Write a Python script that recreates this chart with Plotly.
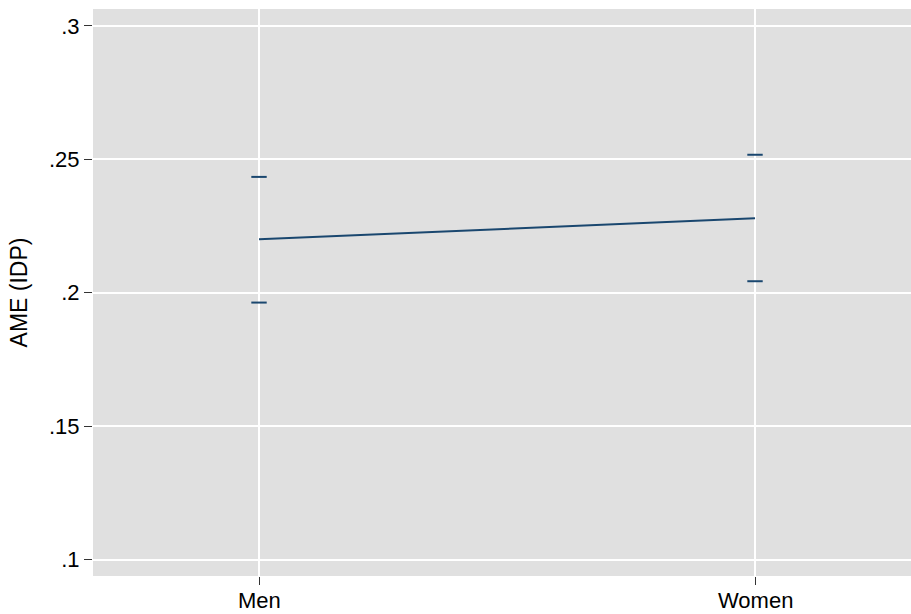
import plotly.graph_objects as go

categories = ["Men", "Women"]
ame = [0.2200, 0.2279]
ci_low = [0.1963, 0.2043]
ci_high = [0.2434, 0.2517]
y_tickvals = [0.1, 0.15, 0.2, 0.25, 0.3]
y_ticktext = [".1", ".15", ".2", ".25", ".3"]

navy = "#1a476f"
xpos = list(range(len(categories)))

fig = go.Figure()
fig.add_trace(go.Scatter(x=xpos, y=ame, mode="lines",
                         line=dict(color=navy, width=2), showlegend=False,
                         hoverinfo="skip"))
fig.add_trace(go.Scatter(x=xpos + xpos, y=ci_low + ci_high, mode="markers",
                         marker=dict(symbol="line-ew", size=11,
                                     line=dict(color=navy, width=2)),
                         showlegend=False, hoverinfo="skip"))

for xv, lab in zip(xpos, categories):
    fig.add_annotation(x=xv, xref="x", y=0, yref="paper", text=lab,
                       showarrow=False, yanchor="top", xanchor="center",
                       yshift=-10, font=dict(size=22, color="black"))

fig.update_layout(
    width=911, height=614,
    margin=dict(l=93, r=0, t=9, b=38, autoexpand=False),
    paper_bgcolor="white",
    plot_bgcolor="#e0e0e0",
    font=dict(family="Liberation Sans, Arial, sans-serif", color="black", size=22),
    xaxis=dict(range=[-0.3347, 1.3145], tickvals=xpos, showticklabels=False,
               showgrid=True, gridcolor="white", gridwidth=1.5, zeroline=False,
               ticks="outside", ticklen=8, tickwidth=1, tickcolor="#333333",
               showline=False),
    yaxis=dict(range=[0.09382, 0.30633], tickvals=y_tickvals, ticktext=y_ticktext,
               showgrid=True, gridcolor="white", gridwidth=1.5, zeroline=False,
               ticks="outside", ticklen=8, tickwidth=1, tickcolor="#333333",
               tickfont=dict(size=22), showline=False,
               title=dict(text="AME (IDP)", font=dict(size=23), standoff=14)),
)

fig.write_html("out.html", config={"displayModeBar": False},
               post_script="document.body.style.margin='0px';")
